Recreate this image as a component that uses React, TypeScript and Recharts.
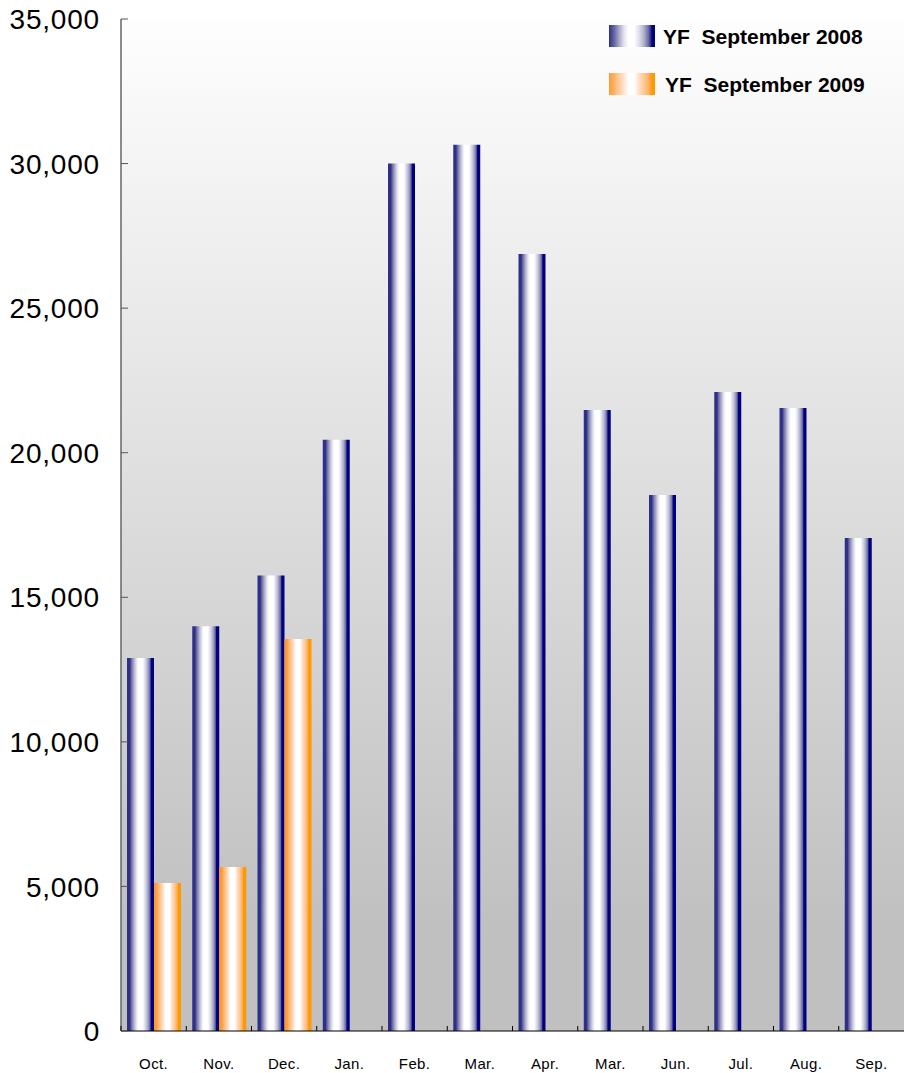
import React from 'react';
import { BarChart, Bar, XAxis, YAxis, CartesianGrid, Legend } from 'recharts';

const months = ['Oct.', 'Nov.', 'Dec.', 'Jan.', 'Feb.', 'Mar.', 'Apr.', 'Mar.', 'Jun.', 'Jul.', 'Aug.', 'Sep.'];
const yf2008 = [12900, 14000, 15750, 20450, 30000, 30650, 26870, 21480, 18540, 22100, 21550, 17050];
const yf2009: (number | null)[] = [5120, 5670, 13560, null, null, null, null, null, null, null, null, null];
const yTicks = [0, 5000, 10000, 15000, 20000, 25000, 30000, 35000];
const seriesNames = ['YF  September 2008', 'YF  September 2009'];

const data = months.map((m, i) => ({ month: m, a: yf2008[i], b: yf2009[i] }));

const W = 904;
const H = 1073;
const LEFT = 121;
const TOP = 19;
const BOTTOM = 42;
const BAND = (W - LEFT) / months.length;
const FONT = "Arial, 'Liberation Sans', sans-serif";

const YTick = (props: any) => {
  const { x, y, payload } = props;
  return (
    <g>
      <line x1={x} x2={x + 7} y1={y} y2={y} stroke="#555" strokeWidth={1} />
      <text x={x - 21} y={y} dy="0.36em" textAnchor="end" fontSize={28} letterSpacing={0.8} fontFamily={FONT} fill="#000">
        {Number(payload.value).toLocaleString('en-US')}
      </text>
    </g>
  );
};

const XTick = (props: any) => {
  const { x, y, payload } = props;
  const bx = x - BAND / 2;
  return (
    <g>
      <line x1={bx} x2={bx} y1={y - 5} y2={y} stroke="#000" strokeWidth={1} />
      <text x={x} y={y + 38} textAnchor="middle" fontSize={15} letterSpacing={0.4} fontFamily={FONT} fill="#000">
        {payload.value}
      </text>
    </g>
  );
};

const Swatch = ({ kind }: { kind: 'navy' | 'orange' }) => {
  const stops = kind === 'navy'
    ? 'linear-gradient(to right, #2e3088 0%, #6a6aa4 12%, #a8a8c8 22%, #e0e0ec 32%, #ffffff 42%, #ffffff 55%, #e0e0ec 65%, #b0b0cc 76%, #6a6aa4 86%, #000080 94%, #000080 100%)'
    : 'linear-gradient(to right, #ff9a2e 0%, #ffb36b 12%, #ffcda0 22%, #ffe3cc 32%, #ffffff 42%, #ffffff 55%, #ffe0c8 65%, #ffc898 76%, #ffb060 86%, #ff9900 94%, #ff9900 100%)';
  return <div style={{ width: 46, height: 22, background: stops, flex: '0 0 auto' }} />;
};

const renderLegend = () => (
  <div style={{ fontFamily: FONT, fontWeight: 'bold', fontSize: 21, color: '#000' }}>
    {seriesNames.map((name, i) => (
      <div key={i} style={{ display: 'flex', alignItems: 'center', height: 22, marginBottom: i === 0 ? 26 : 0 }}>
        <Swatch kind={i === 0 ? 'navy' : 'orange'} />
        <span style={{ marginLeft: i === 0 ? 8 : 10, whiteSpace: 'pre', lineHeight: '22px', position: 'relative', top: 1 }}>{name}</span>
      </div>
    ))}
  </div>
);

export default function App() {
  return (
    <div style={{ position: 'absolute', left: 0, top: 0, width: W, height: H, background: '#fff' }}>
      <BarChart
        width={W}
        height={H}
        data={data}
        margin={{ top: TOP, right: 0, left: 0, bottom: 0 }}
        barGap={0}
        barCategoryGap={6}
      >
        <defs>
          <linearGradient id="bgGrad" x1="0" y1="0" x2="0" y2="1">
            <stop offset="0%" stopColor="#fefefe" />
            <stop offset="90%" stopColor="#c0c0c0" />
            <stop offset="100%" stopColor="#c0c0c0" />
          </linearGradient>
          <linearGradient id="navyGrad" x1="0" y1="0" x2="1" y2="0">
            <stop offset="0%" stopColor="#2e3088" />
            <stop offset="10%" stopColor="#2e3088" />
            <stop offset="16%" stopColor="#6a6aa4" />
            <stop offset="26%" stopColor="#b0b0cc" />
            <stop offset="34%" stopColor="#e0e0ec" />
            <stop offset="42%" stopColor="#ffffff" />
            <stop offset="58%" stopColor="#ffffff" />
            <stop offset="66%" stopColor="#e0e0ec" />
            <stop offset="76%" stopColor="#b0b0cc" />
            <stop offset="85%" stopColor="#6a6aa4" />
            <stop offset="90%" stopColor="#000080" />
            <stop offset="100%" stopColor="#000080" />
          </linearGradient>
          <linearGradient id="orangeGrad" x1="0" y1="0" x2="1" y2="0">
            <stop offset="0%" stopColor="#ff9a2e" />
            <stop offset="8%" stopColor="#ff9a2e" />
            <stop offset="16%" stopColor="#ffb36b" />
            <stop offset="26%" stopColor="#ffcda0" />
            <stop offset="34%" stopColor="#ffe3cc" />
            <stop offset="42%" stopColor="#ffffff" />
            <stop offset="58%" stopColor="#ffffff" />
            <stop offset="66%" stopColor="#ffe0c8" />
            <stop offset="76%" stopColor="#ffc898" />
            <stop offset="85%" stopColor="#ffb060" />
            <stop offset="90%" stopColor="#ff9900" />
            <stop offset="100%" stopColor="#ff9900" />
          </linearGradient>
        </defs>
        <CartesianGrid horizontal={false} vertical={false} fill="url(#bgGrad)" stroke="none" />
        <XAxis
          dataKey="month"
          height={BOTTOM}
          tickSize={0}
          tickMargin={0}
          tickLine={false}
          axisLine={{ stroke: '#000', strokeWidth: 1 }}
          tick={<XTick />}
          interval={0}
        />
        <YAxis
          width={LEFT}
          domain={[0, 35000]}
          ticks={yTicks}
          tickSize={0}
          tickMargin={0}
          tickLine={false}
          axisLine={{ stroke: '#666', strokeWidth: 1.5 }}
          tick={<YTick />}
          interval={0}
        />
        <Legend
          layout="vertical"
          align="center"
          verticalAlign="middle"
          wrapperStyle={{ top: 25, left: 609, width: 295 }}
          content={renderLegend}
        />
        <Bar dataKey="a" name={seriesNames[0]} fill="url(#navyGrad)" isAnimationActive={false} />
        <Bar dataKey="b" name={seriesNames[1]} fill="url(#orangeGrad)" isAnimationActive={false} />
      </BarChart>
    </div>
  );
}
